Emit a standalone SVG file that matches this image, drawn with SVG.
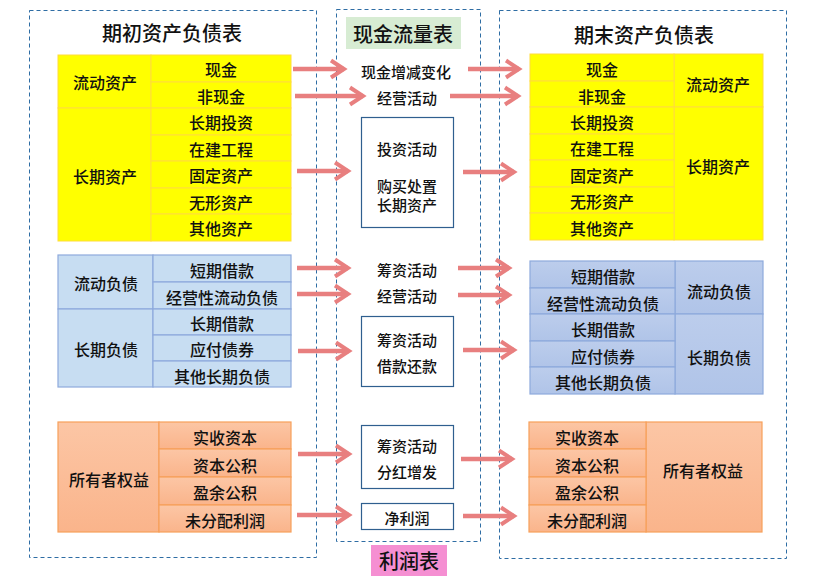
<svg xmlns="http://www.w3.org/2000/svg" width="822" height="584" viewBox="0 0 822 584">
<defs>
<style>
text{font-family:"Noto Sans CJK SC","Noto Sans",sans-serif;fill:#111;text-anchor:middle;dominant-baseline:central;font-weight:500}
.t{font-size:16px}
.m{font-size:15px}
.h{font-size:20px}
.dash{fill:none;stroke:#2e6da4;stroke-width:1;stroke-dasharray:4 3}
.box{fill:#fff;stroke:#2f5f8f;stroke-width:1.2}
.ye{fill:#ffff00;stroke:#ffdc3c;stroke-width:1}
.bl1{fill:#c7ddf2;stroke:#8eaadc;stroke-width:1.2}
.bl2{fill:url(#gb);stroke:#8eaadc;stroke-width:1.2}
.or{fill:url(#go);stroke:#f7a05a;stroke-width:1.2}
.ar{fill:none;stroke:#e87f7f;stroke-width:4.5;marker-end:url(#ah)}
</style>
<linearGradient id="gb" x1="0" y1="0" x2="0" y2="1"><stop offset="0" stop-color="#bccdec"/><stop offset="1" stop-color="#b0c4e8"/></linearGradient>
<linearGradient id="go" x1="0" y1="0" x2="0" y2="1"><stop offset="0" stop-color="#fcc6a5"/><stop offset="1" stop-color="#fab48b"/></linearGradient>
<marker id="ah" markerWidth="20" markerHeight="24" refX="13" refY="8.5" orient="auto" markerUnits="userSpaceOnUse" overflow="visible"><path d="M0,0 L13,8.5 L0,17" fill="none" stroke="#e87f7f" stroke-width="4"/></marker>
</defs>

<g id="frames">
<rect class="dash" x="29.5" y="10.5" width="287" height="547"/>
<rect class="dash" x="336.5" y="9.5" width="144" height="532"/>
<rect class="dash" x="499.5" y="10.5" width="287" height="548"/>
</g>

<g id="titles">
<text class="h" x="172" y="32">期初资产负债表</text>
<rect x="346" y="17" width="115" height="32" fill="#d7ecd3"/>
<text class="h" x="403" y="33">现金流量表</text>
<text class="h" x="644" y="34">期末资产负债表</text>
<rect x="371" y="545" width="76" height="31" fill="#f58fd2"/>
<text class="h" x="409" y="560">利润表</text>
</g>

<g id="left-assets">
<rect class="ye" x="58" y="55" width="93" height="53"/>
<rect class="ye" x="58" y="108" width="93" height="133"/>
<rect class="ye" x="151" y="55" width="140" height="27"/>
<rect class="ye" x="151" y="82" width="140" height="26"/>
<rect class="ye" x="151" y="108" width="140" height="27"/>
<rect class="ye" x="151" y="135" width="140" height="26"/>
<rect class="ye" x="151" y="161" width="140" height="27"/>
<rect class="ye" x="151" y="188" width="140" height="26"/>
<rect class="ye" x="151" y="214" width="140" height="27"/>
<text class="t" x="105" y="82">流动资产</text>
<text class="t" x="105" y="176">长期资产</text>
<text class="t" x="221" y="69">现金</text>
<text class="t" x="221" y="96">非现金</text>
<text class="t" x="221" y="122">长期投资</text>
<text class="t" x="221" y="149">在建工程</text>
<text class="t" x="221" y="175">固定资产</text>
<text class="t" x="221" y="202">无形资产</text>
<text class="t" x="221" y="228">其他资产</text>
</g>

<g id="right-assets">
<rect class="ye" x="674" y="54" width="89" height="53"/>
<rect class="ye" x="674" y="107" width="89" height="133"/>
<rect class="ye" x="530" y="54" width="144" height="27"/>
<rect class="ye" x="530" y="81" width="144" height="26"/>
<rect class="ye" x="530" y="107" width="144" height="27"/>
<rect class="ye" x="530" y="134" width="144" height="26"/>
<rect class="ye" x="530" y="160" width="144" height="27"/>
<rect class="ye" x="530" y="187" width="144" height="26"/>
<rect class="ye" x="530" y="213" width="144" height="27"/>
<text class="t" x="718" y="84">流动资产</text>
<text class="t" x="718" y="166">长期资产</text>
<text class="t" x="602" y="69">现金</text>
<text class="t" x="602" y="96">非现金</text>
<text class="t" x="602" y="122">长期投资</text>
<text class="t" x="602" y="148">在建工程</text>
<text class="t" x="602" y="175">固定资产</text>
<text class="t" x="602" y="201">无形资产</text>
<text class="t" x="602" y="228">其他资产</text>
</g>

<g id="left-liabilities">
<rect class="bl1" x="58" y="255" width="95" height="54"/>
<rect class="bl1" x="58" y="309" width="95" height="78"/>
<rect class="bl1" x="153" y="255" width="138" height="27"/>
<rect class="bl1" x="153" y="282" width="138" height="27"/>
<rect class="bl1" x="153" y="309" width="138" height="26"/>
<rect class="bl1" x="153" y="335" width="138" height="26"/>
<rect class="bl1" x="153" y="361" width="138" height="26"/>
<text class="t" x="106" y="283">流动负债</text>
<text class="t" x="106" y="349">长期负债</text>
<text class="t" x="222" y="270">短期借款</text>
<text class="t" x="222" y="297">经营性流动负债</text>
<text class="t" x="222" y="323">长期借款</text>
<text class="t" x="222" y="349">应付债券</text>
<text class="t" x="222" y="376">其他长期负债</text>
</g>

<g id="right-liabilities">
<rect class="bl2" x="675" y="261" width="88" height="53"/>
<rect class="bl2" x="675" y="314" width="88" height="80"/>
<rect class="bl2" x="530" y="261" width="145" height="27"/>
<rect class="bl2" x="530" y="288" width="145" height="26"/>
<rect class="bl2" x="530" y="314" width="145" height="27"/>
<rect class="bl2" x="530" y="341" width="145" height="26"/>
<rect class="bl2" x="530" y="367" width="145" height="27"/>
<text class="t" x="719" y="291">流动负债</text>
<text class="t" x="719" y="357">长期负债</text>
<text class="t" x="603" y="276">短期借款</text>
<text class="t" x="603" y="303">经营性流动负债</text>
<text class="t" x="603" y="329">长期借款</text>
<text class="t" x="603" y="356">应付债券</text>
<text class="t" x="603" y="382">其他长期负债</text>
</g>

<g id="left-equity">
<rect class="or" x="58" y="422" width="101" height="110"/>
<rect class="or" x="159" y="422" width="132" height="27"/>
<rect class="or" x="159" y="449" width="132" height="28"/>
<rect class="or" x="159" y="477" width="132" height="28"/>
<rect class="or" x="159" y="505" width="132" height="27"/>
<text class="t" x="109" y="479">所有者权益</text>
<text class="t" x="225" y="437">实收资本</text>
<text class="t" x="225" y="465">资本公积</text>
<text class="t" x="225" y="492">盈余公积</text>
<text class="t" x="225" y="520">未分配利润</text>
</g>

<g id="right-equity">
<rect class="or" x="646" y="422" width="116" height="110"/>
<rect class="or" x="529" y="422" width="117" height="27"/>
<rect class="or" x="529" y="449" width="117" height="28"/>
<rect class="or" x="529" y="477" width="117" height="28"/>
<rect class="or" x="529" y="505" width="117" height="27"/>
<text class="t" x="703" y="470">所有者权益</text>
<text class="t" x="587" y="437">实收资本</text>
<text class="t" x="587" y="465">资本公积</text>
<text class="t" x="587" y="492">盈余公积</text>
<text class="t" x="587" y="520">未分配利润</text>
</g>

<g id="cashflow">
<text class="m" x="406" y="71">现金增减变化</text>
<text class="m" x="407" y="97">经营活动</text>
<rect class="box" x="361.5" y="117.5" width="92" height="110"/>
<text class="m" x="407" y="148">投资活动</text>
<text class="m" x="407" y="185">购买处置</text>
<text class="m" x="407" y="204">长期资产</text>
<text class="m" x="407" y="269">筹资活动</text>
<text class="m" x="407" y="295">经营活动</text>
<rect class="box" x="361.5" y="316.5" width="92" height="70"/>
<text class="m" x="407" y="339">筹资活动</text>
<text class="m" x="407" y="365">借款还款</text>
<rect class="box" x="361.5" y="425.5" width="92" height="63"/>
<text class="m" x="407" y="445">筹资活动</text>
<text class="m" x="407" y="471">分红增发</text>
<rect class="box" x="361.5" y="503.5" width="92" height="26"/>
<text class="m" x="407" y="517">净利润</text>
</g>

<g id="connectors">
<path class="ar" d="M293,69 H344"/>
<path class="ar" d="M295,96 H363"/>
<path class="ar" d="M297,171 H348"/>
<path class="ar" d="M468,69 H519"/>
<path class="ar" d="M450,96 H518"/>
<path class="ar" d="M463,172 H514"/>
<path class="ar" d="M297,268 H348"/>
<path class="ar" d="M297,294 H348"/>
<path class="ar" d="M298,351 H349"/>
<path class="ar" d="M458,268 H509"/>
<path class="ar" d="M458,295 H509"/>
<path class="ar" d="M463,350 H514"/>
<path class="ar" d="M298,454 H349"/>
<path class="ar" d="M297,515 H349"/>
<path class="ar" d="M461,459 H512"/>
<path class="ar" d="M463,516 H514"/>
</g>
</svg>
